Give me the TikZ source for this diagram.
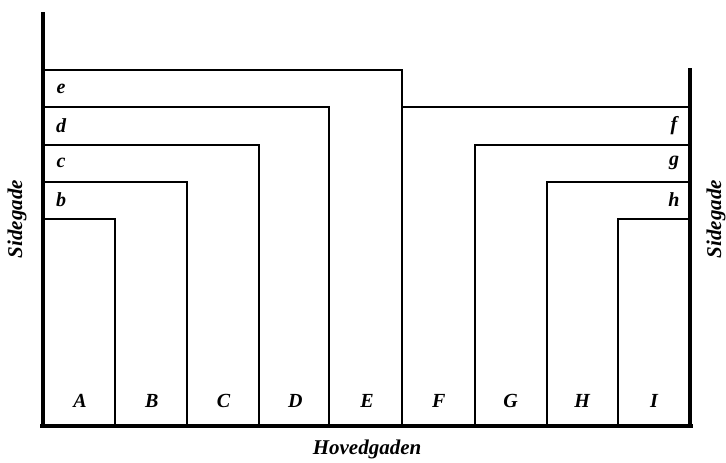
\documentclass[tikz,border=0pt]{standalone}
\usepackage{fontspec}
\setmainfont{Liberation Serif}
\begin{document}
\begin{tikzpicture}[x=1pt, y=-1pt]
  \tikzset{
    wall/.style={line width=2pt},
    street/.style={line width=4.5pt},
    lot/.style={font=\fontsize{20}{22}\selectfont\bfseries\itshape},
    road/.style={font=\fontsize{21}{24}\selectfont\bfseries\itshape},
  }
  \useasboundingbox (0,0) rectangle (726,463);

  % streets
  \draw[street] (43,12) -- (43,428);
  \draw[street] (690,68) -- (690,428);
  \draw[street] (40,426) -- (693,426);

  % left lots
  \draw[wall] (45,70) -- (402,70) -- (402,425);
  \draw[wall] (45,107) -- (329,107) -- (329,425);
  \draw[wall] (45,145) -- (259,145) -- (259,425);
  \draw[wall] (45,182) -- (187,182) -- (187,425);
  \draw[wall] (45,219) -- (115,219) -- (115,425);

  % right lots
  \draw[wall] (402,107) -- (688,107);
  \draw[wall] (688,145) -- (475,145) -- (475,425);
  \draw[wall] (688,182) -- (547,182) -- (547,425);
  \draw[wall] (688,219) -- (618,219) -- (618,425);

  % labels
  \node[lot] (le) at (61,89) {e};
  \node[lot] (ld) at (61,126) {d};
  \node[lot] (lc) at (61,163) {c};
  \node[lot] (lb) at (61,200) {b};
  \node[lot] (lf) at (674,126) {f};
  \node[lot] (lg) at (674,163) {g};
  \node[lot] (lh) at (674,200) {h};
  \foreach \l [count=\i] in {A,B,C,D,E,F,G,H,I}
    \node[lot] (l\l) at ({80+(\i-1)*71.75},401) {\l};

  \node[road] (main) at (367,449) {Hovedgaden};
  \node[road, rotate=90] (sideL) at (17,219) {Sidegade};
  \node[road, rotate=90] (sideR) at (716,219) {Sidegade};
\end{tikzpicture}
\end{document}
